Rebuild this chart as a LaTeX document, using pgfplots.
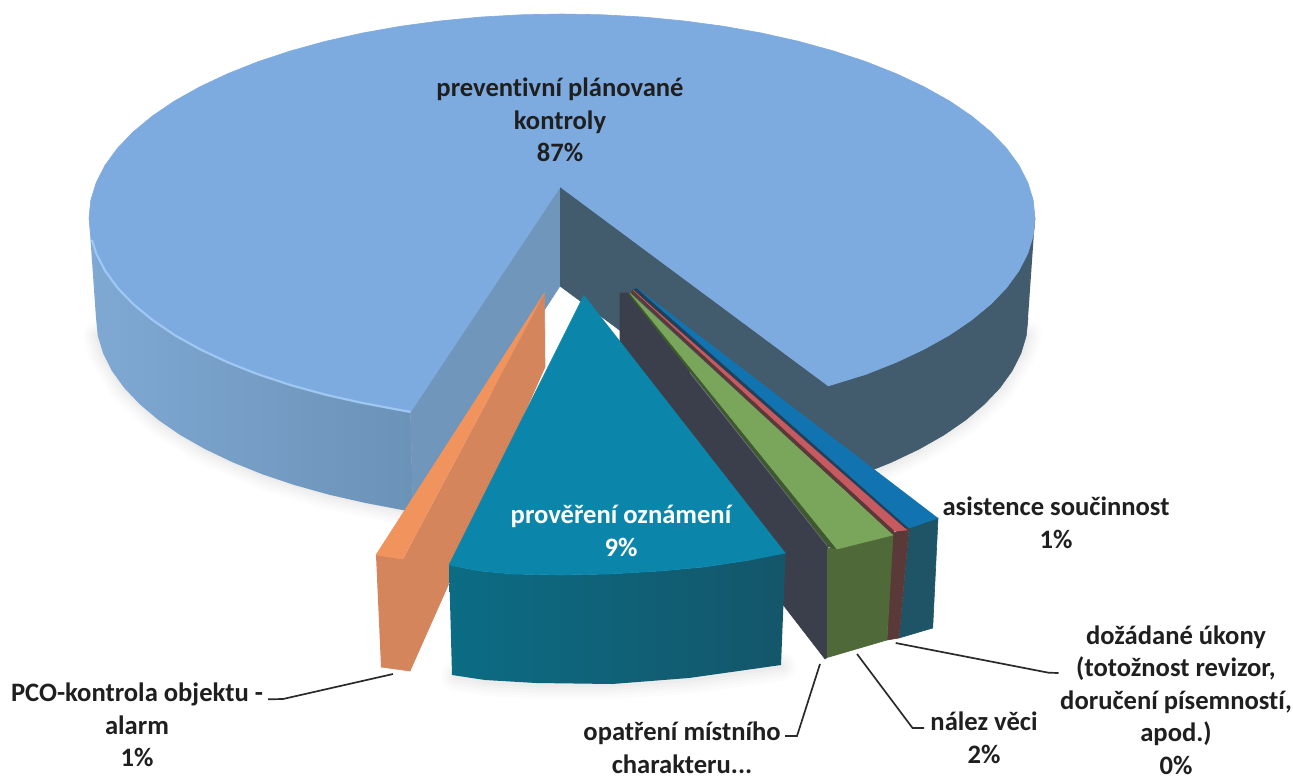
\documentclass[border=0pt]{standalone}
\usepackage{fontspec}
\setmainfont[Ligatures=NoCommon]{Carlito}
\usepackage{pgfplots}
\pgfplotsset{compat=1.18}
\definecolor{topblue}{HTML}{7DABDF}
\definecolor{rimblue}{HTML}{9FC7F2}
\definecolor{sideA}{HTML}{7FA8D3}
\definecolor{sideB}{HTML}{6B93B8}
\definecolor{cutL}{HTML}{7097BB}
\definecolor{cutR}{HTML}{425C6D}
\definecolor{orT}{HTML}{F0935C}
\definecolor{orS}{HTML}{D5855C}
\definecolor{teT}{HTML}{0B86AA}
\definecolor{teSa}{HTML}{0B6C84}
\definecolor{teSb}{HTML}{14566A}
\definecolor{dkS}{HTML}{3B3F4B}
\definecolor{puT}{HTML}{74748F}
\definecolor{dgS}{HTML}{3F5A30}
\definecolor{grT}{HTML}{7AA65B}
\definecolor{grS}{HTML}{4F6A38}
\definecolor{brS}{HTML}{5A3A38}
\definecolor{reT}{HTML}{C65A60}
\definecolor{blI}{HTML}{243F58}
\definecolor{blT}{HTML}{1173B0}
\definecolor{blS}{HTML}{1F5467}
\definecolor{lead}{HTML}{2A2A2A}
\tikzset{face/.style={fill=#1,draw=#1,line width=.6pt,line join=round},
  lbl/.style={align=center,font=\lab,inner sep=0pt,outer sep=0pt,text=#1}}
\newcommand{\lab}{\fontsize{26.6}{32.5}\selectfont\bfseries}
\begin{document}
\begin{tikzpicture}
\begin{axis}[scale only axis,width=1293pt,height=779pt,
  xmin=0,xmax=1293,ymin=0,ymax=779,y dir=reverse,
  ticks=none,axis line style={draw=none,line width=0pt},clip=false]
% soft shadows
\foreach \w/\o in {30/.012,24/.012,18/.014,12/.016,6/.018}{
\edef\tmp{\noexpand\addplot[draw=black,opacity=\o,line width=\w pt,line cap=round,line join=round] coordinates {(98,335.8)(103.1,353.4)(124.1,387.8)(158.4,420)(205,449.1)(262.4,474.3)(329,494.7)(412.9,512)};}\tmp
\edef\tmp{\noexpand\addplot[draw=black,opacity=\o,line width=\w pt,line cap=round,line join=round] coordinates {(1026.2,335.8)(1020.9,353.4)(999.9,387.8)(965.6,420)(919,449.1)(880,468)};}\tmp
\edef\tmp{\noexpand\addplot[draw=black,opacity=\o,line width=\w pt,line cap=round,line join=round] coordinates {(456,676)(485,681)(536,684)(612,684)(689,679)(781,666)};}\tmp
}
% big slice: left side
\addplot[draw=none,left color=sideA,right color=sideB] coordinates {
 (89,218)(90.8,235.8)(96.2,253.4)(105.1,270.8)(117.5,287.8)(133.3,304.2)(152.4,320)(174.5,335)(199.7,349.1)(227.5,362.2)(258,374.3)(290.7,385.1)(325.5,394.7)(362.1,402.9)(410.5,412)
 (412.9,512)(365.1,502.9)(329,494.7)(294.7,485.1)(262.4,474.3)(232.5,462.2)(205,449.1)(180.2,435)(158.4,420)(139.7,404.2)(124.1,387.8)(111.9,370.8)(103.1,353.4)(97.8,335.8)(96,318)};
% cut faces
\addplot[face=cutL] coordinates {(560,187)(410.5,412)(412.9,512)(560,286)};
\addplot[face=cutR] coordinates {(560,187)(828,386)(829.3,485.1)(560,286)};
% big slice: right side
\addplot[face=cutR] coordinates {
 (1035,218)(1033.2,235.8)(1027.8,253.4)(1018.9,270.8)(1006.5,287.8)(990.7,304.2)(971.6,320)(949.5,335)(924.3,349.1)(896.5,362.2)(866,374.3)(828,386)
 (829.3,485.1)(861.5,474.3)(891.5,462.2)(919,449.1)(943.8,435)(965.6,420)(984.3,404.2)(999.9,387.8)(1012.1,370.8)(1020.9,353.4)(1026.2,335.8)(1028,318)};
\addplot[draw=cutR,line width=2pt] coordinates {(828,386)(829.3,485.1)};
% big slice: top
\addplot[face=topblue] coordinates {
 (560,187)(410.5,412)(362.1,402.9)(325.5,394.7)(290.7,385.1)(258,374.3)(227.5,362.2)(199.7,349.1)(174.5,335)(152.4,320)(133.3,304.2)(117.5,287.8)(105.1,270.8)(96.2,253.4)(90.8,235.8)(89,218)
 (90.8,200.2)(96.2,182.6)(105.1,165.2)(117.5,148.2)(133.3,131.8)(152.4,116)(174.5,101)(199.7,86.9)(227.5,73.8)(258,61.7)(290.7,50.9)(325.5,41.3)(362.1,33.1)(400.2,26.3)(439.6,21)(479.9,17.1)(520.8,14.8)(562,14)
 (603.2,14.8)(644.1,17.1)(684.4,21)(723.8,26.3)(761.9,33.1)(798.5,41.3)(833.3,50.9)(866,61.7)(896.5,73.8)(924.3,86.9)(949.5,101)(971.6,116)(990.7,131.8)(1006.5,148.2)(1018.9,165.2)(1027.8,182.6)(1033.2,200.2)
 (1035,218)(1033.2,235.8)(1027.8,253.4)(1018.9,270.8)(1006.5,287.8)(990.7,304.2)(971.6,320)(949.5,335)(924.3,349.1)(896.5,362.2)(866,374.3)(828,386)};
\addplot[draw=rimblue,line width=2.2pt] coordinates {(92,240)(96.2,253.4)(105.1,270.8)(117.5,287.8)(133.3,304.2)(152.4,320)(174.5,335)(199.7,349.1)(227.5,362.2)(258,374.3)(290.7,385.1)(325.5,394.7)(362.1,402.9)(410.5,412)};
% orange slice
\addplot[face=orS] coordinates {(544.5,293)(545,367)(410,671)(403,559)};
\addplot[face=orS] coordinates {(376,555)(403,559)(410,671)(381,667)};
\addplot[face=orT] coordinates {(544.5,293)(376,555)(403,559)};
% dark slice
\addplot[face=dkS] coordinates {(619.5,293)(630,293)(828,547)(829,656)(825,659)(619.5,393)};
\addplot[draw=puT,line width=1.5pt] coordinates {(690,372)(828,546)};
% blue slice
\addplot[face=blS] coordinates {(909,528)(938,518)(932.7,628)(899,638)};
\addplot[face=blI] coordinates {(632,290)(907,531)(909,528)(637,288)};
\addplot[face=blT] coordinates {(637,288)(909,528)(938,518)};
% red slice
\addplot[face=brS] coordinates {(892,533)(909,528)(899,638)(887,640)};
\addplot[face=brS] coordinates {(631,292)(893,535)(895,528)(633,290)};
\addplot[face=reT] coordinates {(633,290)(895,531)(907,530)};
% green slice
\addplot[face=grS] coordinates {(827,549)(893,534)(887,640)(829,657)(827,657)};
\addplot[face=dgS] coordinates {(628,293)(829,547)(837,549)(630,293)};
\addplot[face=grT] coordinates {(630,293)(837,549)(893,535)};
% teal slice
\addplot[draw=none,left color=teSa,right color=teSb] coordinates {(449,565)(480,571)(513,574)(560,575)(609,574)(660,571)(704,567)(750,560)(785.5,553)
 (781,665)(689,678)(612,684)(536,683)(485,680)(452,675)};
\addplot[face=teT] coordinates {(584,295)(449,565)(480,571)(513,574)(560,575)(609,574)(660,571)(704,567)(750,560)(785.5,553)};
% leader lines
\addplot[draw=lead,line width=1.7pt] coordinates {(268,699.3)(283,699)(393,674)};
\addplot[draw=lead,line width=1.7pt] coordinates {(785,736)(797,736)(820,664)};
\addplot[draw=lead,line width=1.7pt] coordinates {(924,728)(912.5,728)(857,654)};
\addplot[draw=lead,line width=1.7pt] coordinates {(1058.5,673)(1048.5,672.7)(895.7,643)};
% labels
\node[lbl=black!88] at (axis cs:560,120) {preventivní plánované\\kontroly\\87\%};
\node[lbl=white] at (axis cs:621,531) {prověření oznámení\\9\%};
\node[lbl=black!88] at (axis cs:1056,523) {asistence součinnost\\1\%};
\node[lbl=black!88] at (axis cs:1176,700) {dožádané úkony\\(totožnost revizor,\\doručení písemností,\\apod.)\\0\%};
\node[lbl=black!88] at (axis cs:984,738) {nález věci\\2\%};
\node[lbl=black!88] at (axis cs:682,748) {opatření místního\\charakteru...};
\node[lbl=black!88] at (axis cs:137,725) {PCO-kontrola objektu -\\alarm\\1\%};
\end{axis}
\end{tikzpicture}
\end{document}
